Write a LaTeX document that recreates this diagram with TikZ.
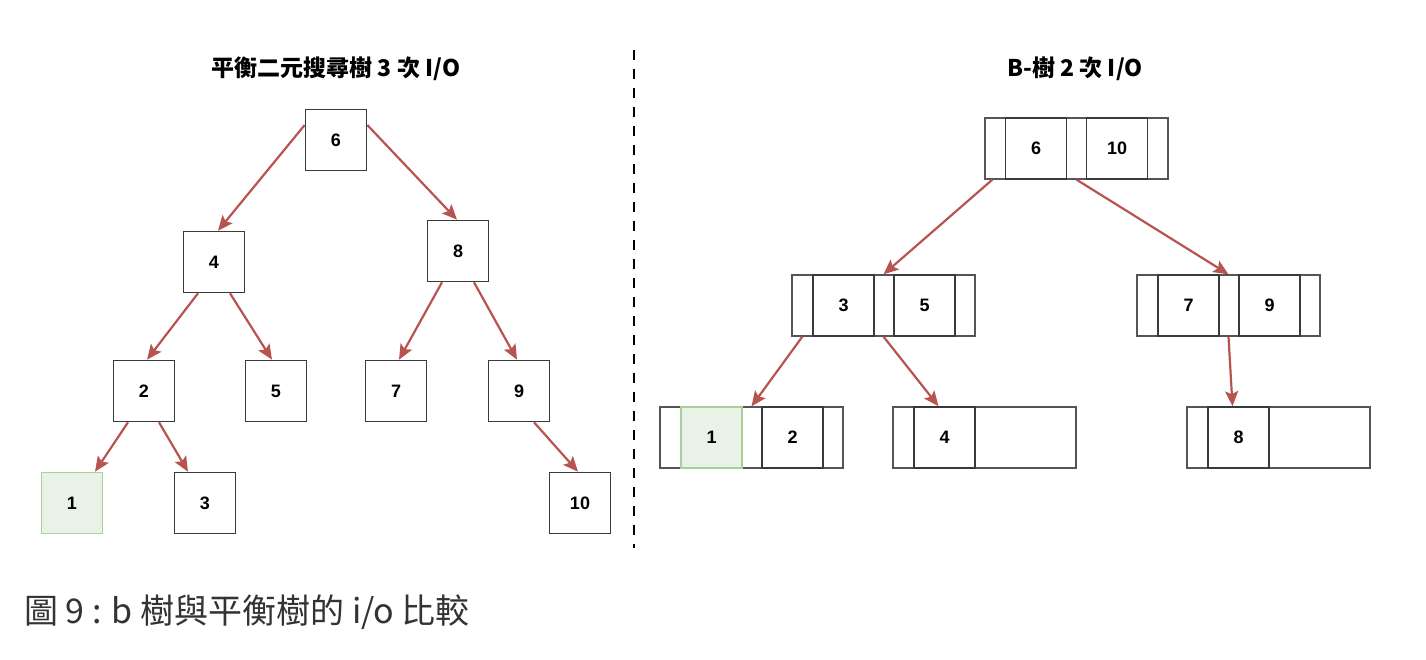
\documentclass[tikz,border=0pt]{standalone}
\usepackage{fontspec}
\newfontfamily\cjk{Noto Sans CJK TC}
\newfontfamily\numf{Liberation Sans}
\usetikzlibrary{arrows.meta}
\definecolor{boxgray}{HTML}{3A3A3A}
\definecolor{outgray}{HTML}{555555}
\definecolor{arrred}{HTML}{B85450}
\definecolor{gfill}{HTML}{E9F2E6}
\definecolor{gdraw}{HTML}{A9CF9A}
\definecolor{captxt}{HTML}{333333}
\tikzset{
  keybox/.style={draw=boxgray, line width=1.6pt, fill=white, minimum width=61pt, minimum height=61pt, inner sep=0pt, font=\numf\bfseries\fontsize{18}{18}\selectfont},
  greenbox/.style={keybox, fill=gfill, draw=gdraw},
  outbox/.style={draw=outgray, line width=1.3pt, fill=white, minimum width=183pt, minimum height=61pt, inner sep=0pt},
  arr/.style={draw=arrred, line width=2.2pt, -{Stealth[length=15pt,width=13pt,inset=3pt]}},
  ttl/.style={font=\cjk\bfseries\fontsize{23}{23}\selectfont, text=black},
}
\begin{document}
\begin{tikzpicture}[x=1pt,y=-1pt]
\useasboundingbox (0,0) rectangle (1426,660);
% titles
\node[ttl] (t1) at (336,69) {平衡二元搜尋樹 3 次 I/O};
\node[ttl] (t2) at (1075,69) {B-樹 2 次 I/O};
% divider
\coordinate (d1) at (634,50);
\coordinate (d2) at (634,548);
\draw[line width=2.4pt, dash pattern=on 10pt off 9pt] (d1) -- (d2);
% left tree
\node[keybox] (n6) at (336,140) {6};
\node[keybox] (n4) at (214,262) {4};
\node[keybox] (n8) at (458,251) {8};
\node[keybox] (n2) at (144,391) {2};
\node[keybox] (n5) at (276,391) {5};
\node[keybox] (n7) at (396,391) {7};
\node[keybox] (n9) at (519,391) {9};
\node[greenbox] (n1) at (72,503) {1};
\node[keybox] (n3) at (205,503) {3};
\node[keybox] (n10) at (580,503) {10};
\draw[arr] ([yshift=15pt]n6.west) -- ([xshift=4pt]n4.north);
\draw[arr] ([yshift=15pt]n6.east) -- ([xshift=-1pt]n8.north);
\draw[arr] ([xshift=-16pt]n4.south) -- ([xshift=3pt]n2.north);
\draw[arr] ([xshift=16pt]n4.south) -- ([xshift=-4pt]n5.north);
\draw[arr] ([xshift=-16pt]n8.south) -- ([xshift=3pt]n7.north);
\draw[arr] ([xshift=16pt]n8.south) -- ([xshift=-2pt]n9.north);
\draw[arr] ([xshift=-16pt]n2.south) -- ([xshift=23pt]n1.north);
\draw[arr] ([xshift=15pt]n2.south) -- ([xshift=-17pt]n3.north);
\draw[arr] ([xshift=15pt]n9.south) -- ([xshift=-2pt]n10.north);
% B-tree
\node[outbox] (r) at (1076.5,148.5) {};
\node[keybox] (k6) at (1036,148.5) {6};
\node[keybox] (k10) at (1117,148.5) {10};
\node[outbox] (ml) at (883.5,305.5) {};
\node[keybox] (k3) at (843.5,305.5) {3};
\node[keybox] (k5) at (924.5,305.5) {5};
\node[outbox] (mr) at (1228.5,305.5) {};
\node[keybox] (k7) at (1188.5,305.5) {7};
\node[keybox] (k9) at (1269.5,305.5) {9};
\node[outbox] (l1) at (751.5,437.5) {};
\node[greenbox] (k1) at (711.5,437.5) {1};
\node[keybox] (k2) at (792.5,437.5) {2};
\node[outbox] (l4) at (984.5,437.5) {};
\node[keybox] (k4) at (944.5,437.5) {4};
\node[outbox] (l8) at (1278.5,437.5) {};
\node[keybox] (k8) at (1238.5,437.5) {8};
\draw[arr] ([xshift=8pt]r.south west) -- (ml.north);
\draw[arr] (r.south) -- (mr.north);
\draw[arr] ([xshift=11pt]ml.south west) -- (l1.north);
\draw[arr] (ml.south) -- ([xshift=-6pt]k4.north);
\draw[arr] (mr.south) -- ([xshift=-6pt]k8.north);
% caption
\node[anchor=west, text=captxt, font=\cjk\fontsize{34}{34}\selectfont, inner sep=0pt] (cap) at (24,612) {圖 9 : b 樹與平衡樹的 i/o 比較};
\end{tikzpicture}
\end{document}
